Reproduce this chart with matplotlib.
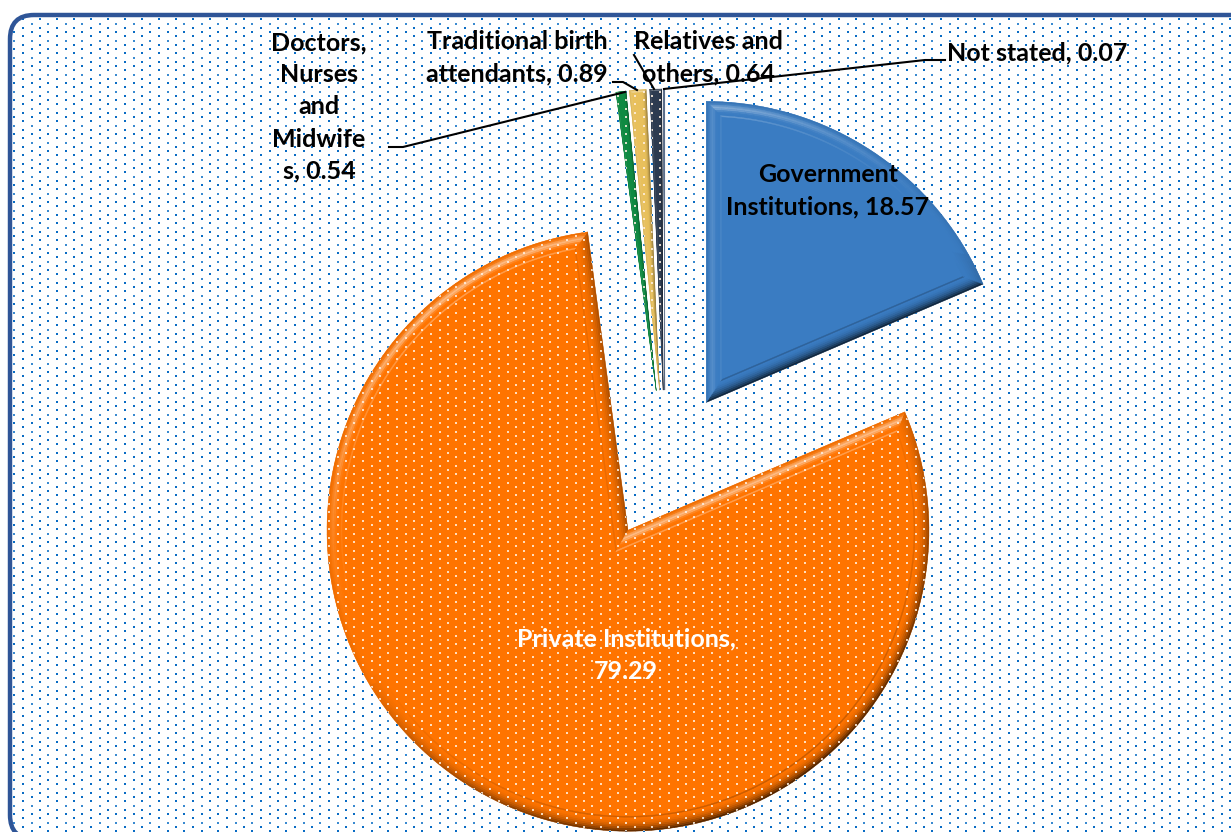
import numpy as np
import matplotlib
matplotlib.use("Agg")
import matplotlib.pyplot as plt
from matplotlib.collections import PolyCollection
from matplotlib.patches import FancyBboxPatch
from matplotlib.colors import to_rgb

W, H = 1231, 832

categories = ["Government Institutions", "Private Institutions", "Doctors, Nurses and Midwifes",
              "Traditional birth attendants", "Relatives and others", "Not stated"]
values = [18.57, 79.29, 0.54, 0.89, 0.64, 0.07]
colors = ["#3a7cc2", "#ff7400", "#0f8a42", "#e8c05c", "#2d3b50", "#5b6f8c"]
bevels = [14, 14, 2.6, 4.2, 3, 0.4]

labels = ["Government\nInstitutions, 18.57", "Private Institutions,\n79.29",
          "Doctors,\nNurses\nand\nMidwife\ns, 0.54", "Traditional birth\nattendants, 0.89",
          "Relatives and\nothers, 0.64", "Not stated, 0.07"]
label_pos = [(828, 191), (626, 655), (319, 107), (517, 58), (708, 58), (1037, 53)]
label_col = ["black", "white", "black", "black", "black", "black"]

leaders = [[(389, 147), (403, 147), (625, 92)],
           [(613, 82), (623, 82), (637, 90)],
           [(634, 55), (654, 89)],
           [(664, 89), (925, 60), (945, 60)]]


def inset(cx, cy, r, t1, t2, b, n):
    # outline of the wedge moved inwards by b: apex first and then the arc
    half = np.radians(t2 - t1) / 2
    mid = np.radians(t1 + t2) / 2
    ax_ = cx + b / np.sin(half) * np.cos(mid)
    ay_ = cy + b / np.sin(half) * np.sin(mid)
    d = np.arcsin(b / (r - b))
    t = np.linspace(np.radians(t1) + d, np.radians(t2) - d, n)
    xs = np.r_[ax_, cx + (r - b) * np.cos(t)]
    ys = np.r_[ay_, cy + (r - b) * np.sin(t)]
    return xs, ys


def bevel(ax, w, color, b, layers=8):
    cx, cy = w.center
    n = max(3, int((w.theta2 - w.theta1) / 1.5))
    base = np.array(to_rgb(color))
    bright = base + (1 - base) * 0.55
    light = np.array([-0.5, 0.85])
    polys, cols = [], []
    steps = list(np.linspace(0, b, layers + 1))
    if b > 5:
        steps.append(b + 1.0)  # thin line round the flat face
    for k in range(len(steps) - 1):
        x0, y0 = inset(cx, cy, w.r, w.theta1, w.theta2, steps[k], n)
        x1, y1 = inset(cx, cy, w.r, w.theta1, w.theta2, steps[k + 1], n)
        f = (k + 0.5) / layers
        for i in range(n + 1):
            j = (i + 1) % (n + 1)
            dx, dy = x0[j] - x0[i], y0[j] - y0[i]
            nn = np.array([dy, -dx]) / (np.hypot(dx, dy) + 1e-9)
            s = nn @ light
            if k == layers:
                c = base * (1 + 0.22 * s) if s < 0 else base + (bright - base) * 0.6 * s ** 2
            elif s < 0:
                c = base * (1 + 0.72 * s * (1 - f) ** 2.2 - 0.08 * (1 - f))
            else:
                c = base + (bright - base) * s ** 2 * np.exp(-((f - 0.45) / 0.2) ** 2)
                c = c * (1 - 0.08 * (1 - f) ** 4)
            polys.append([(x0[i], y0[i]), (x0[j], y0[j]), (x1[j], y1[j]), (x1[i], y1[i])])
            cols.append(np.clip(c, 0, 1))
    ax.add_collection(PolyCollection(polys, facecolors=cols, edgecolors="face", linewidths=0.3, zorder=4))


fig = plt.figure(figsize=(W / 100, H / 100), dpi=100)
ax = fig.add_axes([0, 0, 1, 1])
plt.rcParams["font.family"] = ["Lato", "DejaVu Sans"]

wedges, _ = ax.pie(values, colors=colors, explode=[75] * 6, radius=301, center=(665, H - 465),
                   startangle=90, counterclock=False, frame=True, wedgeprops={"linewidth": 0, "zorder": 3})
ax.set_xlim(0, W)
ax.set_ylim(0, H)
ax.set_axis_off()

frame = FancyBboxPatch((10, H - 839), 1250, 824, boxstyle="round,pad=0,rounding_size=24", fc="white",
                       ec="none", zorder=0)
ax.add_patch(frame)
edge = FancyBboxPatch((10, H - 839), 1250, 824, boxstyle="round,pad=0,rounding_size=24", fc="none",
                      ec="#2f5597", lw=3.2, zorder=2)
ax.add_patch(edge)

# dotted pattern, four rows make one period
rows = np.arange(19.3, 845, 4.25)
xa = np.arange(6, 1245, 17.0)
dots, dash = [], []
for i, y in enumerate(rows):
    xs = xa if i % 2 == 0 else xa - 8.5
    (dash if i % 4 == 1 else dots).extend((x, H - y) for x in xs)
dots, dash = np.round(dots), np.round(dash)

ax.scatter(dots[:, 0] - 0.5, dots[:, 1] + 0.5, s=3.4, marker="s", c="#c8e3f7", linewidths=0, zorder=1,
           clip_path=frame)
ax.scatter(dots[:, 0], dots[:, 1], s=1.9, marker="s", c="#0a6cc4", linewidths=0, zorder=1.1, clip_path=frame)
ax.scatter(dash[:, 0], dash[:, 1], s=0.9, marker="s", c="#3a8ad0", linewidths=0, zorder=1.1, clip_path=frame)

for w, c, b in zip(wedges, colors, bevels):
    bevel(ax, w, c, b)

# white dots on every slice except the blue one
allp = np.vstack([dots, dash])
for w in wedges[1:]:
    sc = ax.scatter(allp[:, 0], allp[:, 1], s=2.4, marker="s", c="#fff0e0", alpha=0.85, linewidths=0, zorder=6)
    sc.set_clip_path(w)

for pts in leaders:
    px, py = zip(*pts)
    ax.plot(px, [H - p for p in py], color="black", lw=1.5, zorder=7, solid_joinstyle="round")

for txt, (x, y), c in zip(labels, label_pos, label_col):
    ax.text(x, H - y, txt, color=c, ha="center", va="center", fontsize=18, fontweight="bold",
            linespacing=1.48, zorder=8)

fig.savefig("out.png", dpi=100)
